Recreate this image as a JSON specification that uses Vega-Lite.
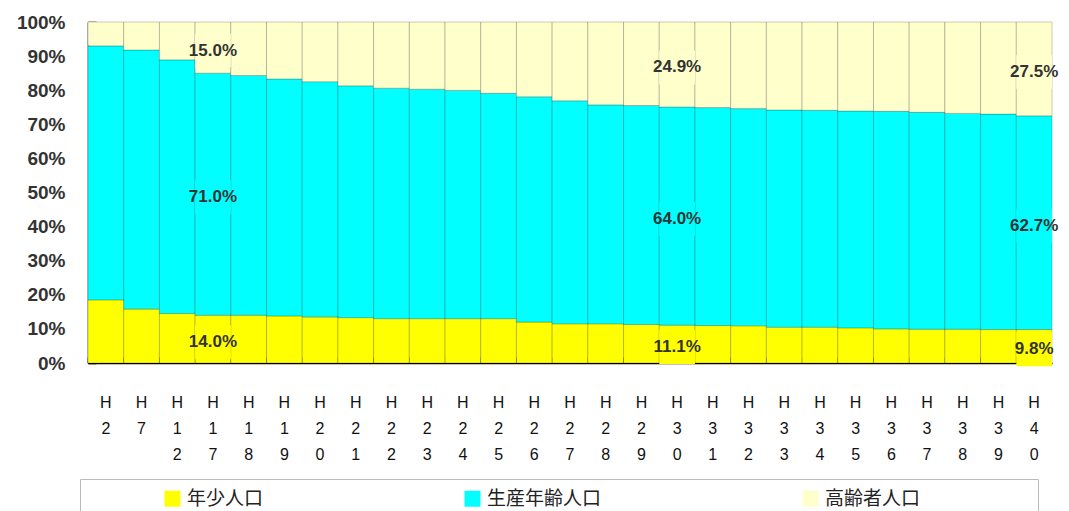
{
  "$schema": "https://vega.github.io/schema/vega-lite/v6.json",
  "width": 964,
  "height": 341,
  "autosize": {"type": "none"},
  "padding": {"left": 88, "top": 22, "right": 17, "bottom": 148},
  "background": "white",
  "config": {
    "view": {"stroke": null},
    "axis": {"labelOverlap": false}
  },
  "data": {"values": [
    {"year": "H2", "年少人口": 18.5, "生産年齢人口": 74.5, "高齢者人口": 7.0},
    {"year": "H7", "年少人口": 15.8, "生産年齢人口": 76.0, "高齢者人口": 8.2},
    {"year": "H12", "年少人口": 14.5, "生産年齢人口": 74.4, "高齢者人口": 11.1},
    {"year": "H17", "年少人口": 14.0, "生産年齢人口": 71.0, "高齢者人口": 15.0},
    {"year": "H18", "年少人口": 14.0, "生産年齢人口": 70.3, "高齢者人口": 15.7},
    {"year": "H19", "年少人口": 13.8, "生産年齢人口": 69.5, "高齢者人口": 16.7},
    {"year": "H20", "年少人口": 13.5, "生産年齢人口": 69.0, "高齢者人口": 17.5},
    {"year": "H21", "年少人口": 13.3, "生産年齢人口": 68.0, "高齢者人口": 18.7},
    {"year": "H22", "年少人口": 13.0, "生産年齢人口": 67.6, "高齢者人口": 19.4},
    {"year": "H23", "年少人口": 13.0, "生産年齢人口": 67.3, "高齢者人口": 19.7},
    {"year": "H24", "年少人口": 13.0, "生産年齢人口": 66.9, "高齢者人口": 20.1},
    {"year": "H25", "年少人口": 13.0, "生産年齢人口": 66.1, "高齢者人口": 20.9},
    {"year": "H26", "年少人口": 12.0, "生産年齢人口": 66.1, "高齢者人口": 21.9},
    {"year": "H27", "年少人口": 11.5, "生産年齢人口": 65.4, "高齢者人口": 23.1},
    {"year": "H28", "年少人口": 11.5, "生産年齢人口": 64.2, "高齢者人口": 24.3},
    {"year": "H29", "年少人口": 11.3, "生産年齢人口": 64.2, "高齢者人口": 24.5},
    {"year": "H30", "年少人口": 11.1, "生産年齢人口": 64.0, "高齢者人口": 24.9},
    {"year": "H31", "年少人口": 11.0, "生産年齢人口": 63.9, "高齢者人口": 25.1},
    {"year": "H32", "年少人口": 10.9, "生産年齢人口": 63.7, "高齢者人口": 25.4},
    {"year": "H33", "年少人口": 10.5, "生産年齢人口": 63.7, "高齢者人口": 25.8},
    {"year": "H34", "年少人口": 10.5, "生産年齢人口": 63.6, "高齢者人口": 25.9},
    {"year": "H35", "年少人口": 10.3, "生産年齢人口": 63.6, "高齢者人口": 26.1},
    {"year": "H36", "年少人口": 10.0, "生産年齢人口": 63.8, "高齢者人口": 26.2},
    {"year": "H37", "年少人口": 9.9, "生産年齢人口": 63.6, "高齢者人口": 26.5},
    {"year": "H38", "年少人口": 9.9, "生産年齢人口": 63.3, "高齢者人口": 26.8},
    {"year": "H39", "年少人口": 9.8, "生産年齢人口": 63.2, "高齢者人口": 27.0},
    {"year": "H40", "年少人口": 9.8, "生産年齢人口": 62.7, "高齢者人口": 27.5}
  ]},
  "transform": [
    {"fold": ["年少人口", "生産年齢人口", "高齢者人口"], "as": ["category", "value"]}
  ],
  "layer": [
    {
      "mark": {"type": "bar", "stroke": "#000", "strokeWidth": 0.7, "strokeOpacity": 0.3},
      "encoding": {
        "x": {
          "field": "year", "type": "nominal", "sort": null,
          "scale": {"paddingInner": 0, "paddingOuter": 0},
          "axis": {
            "title": null, "labelAngle": 0, "labelExpr": "split(datum.value, '')",
            "labelFont": "Liberation Sans", "labelFontSize": 16, "labelColor": "#111",
            "labelLineHeight": 26, "labelPadding": 37, "labelOverlap": false,
            "bandPosition": 0, "ticks": true, "tickSize": -6, "tickColor": "#000", "tickWidth": 1.5,
            "domainColor": "#000", "domainWidth": 1.5
          }
        },
        "y": {
          "field": "value", "type": "quantitative", "stack": "normalize",
          "scale": {"domain": [0, 1], "nice": false},
          "axis": {
            "title": null, "format": ".0%", "values": [0, 0.1, 0.2, 0.3, 0.4, 0.5, 0.6, 0.7, 0.8, 0.9, 1],
            "tickCount": 11, "labelOverlap": false,
            "grid": false, "labelFont": "Liberation Sans", "labelFontSize": 19, "labelFontWeight": "bold",
            "labelColor": "#333", "labelPadding": 31, "tickSize": -8, "tickColor": "#000", "tickWidth": 1.5,
            "domainColor": "#000", "domainWidth": 1.5
          }
        },
        "color": {
          "field": "category", "type": "nominal",
          "scale": {"domain": ["年少人口", "生産年齢人口", "高齢者人口"], "range": ["#FFFF00", "#00FFFF", "#FFFFCC"]},
          "legend": {
            "orient": "none", "legendX": -8, "legendY": 457, "direction": "horizontal", "columns": 3,
            "title": "　", "titleOrient": "right", "titlePadding": 108, "titleFontSize": 19,
            "padding": 10, "strokeColor": "#bbbbbb",
            "symbolType": "square", "symbolSize": 256, "symbolStrokeWidth": 0,
            "symbolOffset": 73, "labelOffset": 5,
            "labelFont": "Noto Sans CJK JP", "labelFontSize": 19, "labelColor": "#222", "labelLimit": 300,
            "columnPadding": 126
          }
        },
        "order": {"field": "category", "sort": "ascending"}
      }
    },
    {
      "transform": [{"filter": {"field": "year", "oneOf": ["H17", "H30", "H40"]}}],
      "mark": {"type": "tick", "thickness": 34, "bandSize": 66, "opacity": 1, "yOffset": 3},
      "encoding": {
        "x": {"field": "year", "type": "nominal", "sort": null},
        "y": {"field": "value", "type": "quantitative", "stack": "normalize", "bandPosition": 0.5},
        "color": {"field": "category", "type": "nominal", "legend": null},
        "order": {"field": "category", "sort": "ascending"}
      }
    },
    {
      "transform": [{"filter": {"field": "year", "oneOf": ["H17", "H30", "H40"]}}],
      "mark": {
        "type": "text", "font": "Liberation Sans", "fontWeight": "bold", "fontSize": 17,
        "fill": "#333", "yOffset": 3, "text": {"expr": "format(datum.value, '.1f') + '%'"}
      },
      "encoding": {
        "x": {"field": "year", "type": "nominal", "sort": null},
        "y": {"field": "value", "type": "quantitative", "stack": "normalize", "bandPosition": 0.5},
        "order": {"field": "category", "sort": "ascending"}
      }
    }
  ]
}
